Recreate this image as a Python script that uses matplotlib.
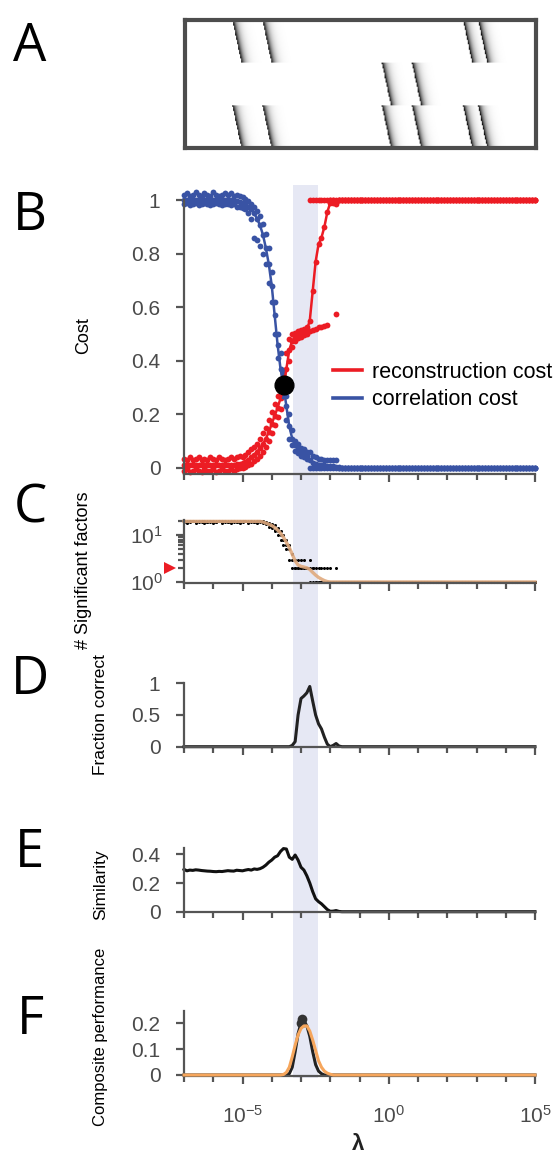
"""
Regularisation sweep summary: panels A-F stacked on a shared log lambda axis.
A: example data raster, B: cost curves, C: number of significant factors,
D: fraction correct, E: similarity, F: composite performance.
"""
import matplotlib.pyplot as plt
import numpy as np
from matplotlib.lines import Line2D
from matplotlib.patches import Rectangle
from matplotlib.ticker import FixedLocator, NullFormatter
from matplotlib.transforms import blended_transform_factory

plt.rcParams["font.family"] = ["Liberation Sans", "DejaVu Sans"]
plt.rcParams["mathtext.fontset"] = "custom"
plt.rcParams["mathtext.rm"] = "Liberation Sans"
plt.rcParams["mathtext.it"] = "Liberation Sans:italic"
plt.rcParams["mathtext.bf"] = "Liberation Sans:bold"

W, H = 554, 1156

# ---------------------------------------------------------------- data --
# lambda sweep: 0.1 decade steps from 1e-7 to 1e5 (121 values)
log_lambda = np.linspace(-7, 5, 121)
lam = 10.0 ** log_lambda

# panel A: onset column of the first neuron of each sequence, per neuron group
seq_onsets_top = [47, 77, 277, 292]
seq_onsets_mid = [196, 226]
seq_onsets_bot = [47, 77, 196, 226, 277, 292]

# panel B: correlation cost (blue), replicate mean and spread
corr_mean = [1.0] * 15 + [
    1.0, 1.0, 0.998, 0.995, 0.993, 0.99, 0.985, 0.975, 0.965, 0.95,
    0.93, 0.905, 0.87, 0.82, 0.76, 0.68, 0.57, 0.46, 0.37, 0.31,
    0.23, 0.155, 0.11, 0.085, 0.07, 0.06, 0.052, 0.046, 0.03, 0.02,
    0.015, 0.012, 0.01, 0.01, 0.008, 0.007, 0.006, 0.005, 0.002, 0.001,
    0.0] + [0.0] * 65
corr_hi = [1.02, 1.025, 1.015, 1.02, 1.03, 1.02, 1.015, 1.025, 1.02, 1.015,
           1.03, 1.02, 1.015, 1.02, 1.025] + [
    1.02, 1.025, 1.015, 1.02, 1.015, 1.01, 1.005, 0.995, 0.985, 0.975,
    0.96, 0.94, 0.91, 0.875, 0.82, 0.73, 0.62, 0.5, 0.43, 0.36,
    0.27, 0.2, 0.14, 0.1, 0.09, 0.075, 0.07, 0.06, 0.06, 0.045,
    0.04, 0.035, 0.035, 0.03, 0.03, 0.03, 0.03, 0.03, 0.0, 0.0,
    0.0] + [0.0] * 65
corr_lo = [0.985, 0.99, 0.98, 0.985, 0.99, 0.98, 0.985, 0.99, 0.985, 0.98,
           0.985, 0.99, 0.985, 0.98, 0.985] + [
    0.985, 0.98, 0.985, 0.975, 0.975, 0.97, 0.965, 0.95, 0.93, 0.86,
    0.85, 0.83, 0.8, 0.76, 0.69, 0.62, 0.5, 0.41, 0.3, 0.27,
    0.18, 0.11, 0.085, 0.065, 0.055, 0.045, 0.04, 0.035] + [0.0] * 13 + [0.0] * 65

# panel B: reconstruction cost (red)
recon_mean = [0.012] * 15 + [
    0.012, 0.012, 0.013, 0.014, 0.016, 0.018, 0.022, 0.03, 0.04, 0.05,
    0.06, 0.075, 0.09, 0.11, 0.135, 0.165, 0.195, 0.225, 0.26, 0.30,
    0.37, 0.44, 0.475, 0.49, 0.5, 0.505, 0.51, 0.515, 0.55, 0.66,
    0.77, 0.835, 0.86, 0.9, 0.955, 0.99, 0.99, 0.985, 1.0, 1.0,
    1.0] + [1.0] * 65
recon_hi = [0.035, 0.03, 0.04, 0.03, 0.035, 0.04, 0.03, 0.035, 0.03, 0.04,
            0.035, 0.03, 0.04, 0.035, 0.03] + [
    0.035, 0.04, 0.035, 0.04, 0.045, 0.04, 0.05, 0.06, 0.07, 0.08,
    0.09, 0.11, 0.13, 0.15, 0.18, 0.21, 0.24, 0.27, 0.3, 0.35,
    0.43, 0.48, 0.5, 0.505, 0.51, 0.515, 0.52, 0.525] + [1.0] * 13 + [1.0] * 65
recon_lo = [-0.01, -0.005, -0.015, -0.01, -0.005, -0.01, -0.015, -0.005, -0.01, -0.01,
            -0.005, -0.015, -0.01, -0.005, -0.01] + [
    -0.01, -0.005, -0.01, -0.005, 0.0, 0.0, 0.005, 0.01, 0.015, 0.025,
    0.035, 0.045, 0.06, 0.08, 0.1, 0.13, 0.16, 0.19, 0.22, 0.27,
    0.32, 0.4, 0.45, 0.475, 0.485, 0.49, 0.495, 0.5, 0.51, 0.515,
    0.52, 0.525, 0.525, 0.53, 0.535, 1.0, 1.0, 0.575, 1.0, 1.0,
    1.0] + [1.0] * 65

cross_lambda = 10 ** -3.58
cross_cost = 0.31

# panel C: significant factors per replicate and smoothed mean
n_factors_true = 2
sig_a = [20] * 27 + [20, 19, 18, 17, 16, 14, 12, 10, 8, 6, 4, 3, 3, 3, 3, 2, 3, 2,
                     2, 2, 2, 2, 2, 2, 1, 2, 1] + [1] * 67
sig_b = [20, 19, 20, 20, 19, 20, 20, 20, 19, 20, 20, 19, 20, 20, 20, 19, 20, 20,
         19, 20, 20, 20, 19, 20, 19, 20, 20] + [
    19, 18, 17, 15, 13, 12, 10, 8, 6, 5, 3, 2, 2, 2, 2, 2, 2, 2,
    1, 1, 1, 1, 1, 1, 1, 1, 1] + [1] * 67
sig_c = [19, 18, 19, 20, 18, 19, 19, 18, 19, 19, 18, 19, 20, 18, 19, 19, 18, 19,
         19, 18, 19, 20, 18, 19, 19, 18, 19] + [
    18, 17, 15, 14, 12, 10, 8, 6, 5, 3, 2, 2, 2, 2, 2, 2, 1, 1,
    1, 1, 1, 1, 1, 1, 1, 1, 1] + [1] * 67
sig_mean = [19.6] * 27 + [
    19.0, 18.0, 17.0, 16.0, 14.5, 12.8, 11.0, 9.0, 7.0, 5.4, 3.9, 2.8, 2.3, 2.15,
    2.08, 2.0, 1.85, 1.6, 1.4, 1.25, 1.15, 1.07, 1.02, 1.0, 1.0, 1.0, 1.0] + [1.0] * 67

# panel D: fraction correct
frac_correct = [0.0] * 37 + [
    0.02, 0.08, 0.5, 0.76, 0.8, 0.85, 0.95, 0.72, 0.5, 0.36, 0.28, 0.15,
    0.04, 0.0, 0.02, 0.05, 0.01] + [0.0] * 67

# panel E: similarity
similarity = [
    0.295, 0.285, 0.29, 0.288, 0.292, 0.29, 0.287, 0.285, 0.283, 0.282,
    0.28, 0.279, 0.281, 0.28, 0.283, 0.286, 0.284, 0.283, 0.289, 0.287,
    0.285, 0.29, 0.294, 0.29, 0.298, 0.295, 0.30, 0.31, 0.325, 0.345,
    0.36, 0.38, 0.39, 0.42, 0.44, 0.437, 0.38, 0.365, 0.395, 0.36,
    0.31, 0.29, 0.25, 0.2, 0.14, 0.09, 0.07, 0.055, 0.035, 0.015,
    0.003, 0.004, 0.008, 0.002] + [0.0] * 67

# panel F: composite performance and its smoothed version
composite = [0.0] * 34 + [
    0.0, 0.0, 0.005, 0.03, 0.09, 0.16, 0.2, 0.21, 0.19, 0.15, 0.09, 0.04,
    0.015, 0.005, 0.0, 0.0, 0.0] + [0.0] * 70
composite_smooth = [0.0] * 34 + [
    0.002, 0.01, 0.03, 0.07, 0.115, 0.155, 0.18, 0.19, 0.19, 0.17, 0.135, 0.095,
    0.055, 0.03, 0.015, 0.007, 0.003] + [0.0] * 70
best_lambda = [10 ** -3.0, 10 ** -2.95]
best_score = [0.2, 0.215]

shade_lo, shade_hi = 10 ** -3.26, 10 ** -2.42

# -------------------------------------------------------------- styling --
RED = "#ec1c24"
BLUE = "#3953a4"
SPINE = "#555555"
TICKTXT = "#4a4a4a"
SHADE = "#e6e8f4"
ORANGE = "#f6a65c"
TAN = "#e0aa7e"
TICKSIZE = 15


def add_ax(top, bottom, left=184, right=535):
    return fig.add_axes([left / W, 1 - bottom / H, (right - left) / W, (bottom - top) / H])


def style(ax, ylim, yticks=None, yticklabels=None, ybounds=None, xlabels=False):
    ax.set_xscale("log")
    ax.set_xlim(1e-7, 1e5)
    ax.set_ylim(*ylim)
    ax.set_facecolor("none")
    for side in ("top", "right"):
        ax.spines[side].set_visible(False)
    for side in ("left", "bottom"):
        ax.spines[side].set_color(SPINE)
        ax.spines[side].set_linewidth(1.6)
    if ybounds is not None:
        ax.spines["left"].set_bounds(*ybounds)
    ax.xaxis.set_major_locator(FixedLocator([1e-5, 1e0, 1e5]))
    ax.xaxis.set_minor_locator(FixedLocator(10.0 ** np.arange(-7, 6)))
    ax.xaxis.set_minor_formatter(NullFormatter())
    if yticks is not None:
        ax.set_yticks(yticks)
        ax.set_yticklabels(yticklabels)
    ax.tick_params(which="major", direction="out", length=6, width=1.6, color=SPINE,
                   labelcolor=TICKTXT, labelsize=TICKSIZE, pad=7)
    ax.tick_params(axis="y", which="major", pad=11)
    ax.tick_params(which="minor", direction="out", length=4, width=1.6, color=SPINE)
    if not xlabels:
        ax.tick_params(axis="x", which="both", labelbottom=False)


fig = plt.figure(figsize=(W / 100, H / 100), dpi=100)

# ---- A: raster of example data
ax_a = add_ax(20, 148, 185, 536)
cols = np.arange(350)
raster = np.zeros((90, 350))
for band, onsets in enumerate([seq_onsets_top, seq_onsets_mid, seq_onsets_bot]):
    for t0 in onsets:
        for k in range(30):
            lag = cols - (t0 + 0.3 * k)
            raster[band * 30 + k] = np.maximum(
                raster[band * 30 + k], np.where(lag >= 0, np.exp(-lag / 3.5), 0))
ax_a.imshow(raster, cmap="gray_r", vmin=0, vmax=1, aspect="auto", interpolation="bilinear")
ax_a.set_xticks([])
ax_a.set_yticks([])
for sp in ax_a.spines.values():
    sp.set_color("#4d4d4d")
    sp.set_linewidth(3)

# ---- B: costs
ax_b = add_ax(185, 474)
for series in (recon_lo, recon_hi, recon_mean):
    ax_b.plot(lam, series, "o", color=RED, ms=4.2, mew=0, clip_on=False)
for series in (corr_lo, corr_hi, corr_mean):
    ax_b.plot(lam, series, "o", color=BLUE, ms=4.2, mew=0, clip_on=False)
ax_b.plot(lam, recon_mean, color=RED, lw=1.8)
ax_b.plot(lam, corr_mean, color=BLUE, lw=1.8)
ax_b.plot([cross_lambda], [cross_cost], "o", color="black", ms=13.5, zorder=5)
style(ax_b, (-0.0224, 1.056), [0, 0.2, 0.4, 0.6, 0.8, 1.0],
      ["0", "0.2", "0.4", "0.6", "0.8", "1"], ybounds=(-0.0224, 1.0))
ax_b.set_ylabel("Cost", fontsize=13)
ax_b.yaxis.set_label_coords(-0.262, 0.48)
ax_b.legend(handles=[Line2D([], [], color=RED, lw=2.6), Line2D([], [], color=BLUE, lw=2.6)],
            labels=["reconstruction cost", "correlation cost"],
            loc="upper left", bbox_to_anchor=(333 / W, 1 - 362 / H),
            bbox_transform=fig.transFigure, frameon=False, fontsize=15.5,
            handlelength=1.35, handletextpad=0.45, labelspacing=0.3,
            borderpad=0, borderaxespad=0)

# ---- C: significant factors
ax_c = add_ax(520, 583)
for series in (sig_a, sig_b, sig_c):
    ax_c.plot(lam, series, "o", color="black", ms=2.2, mew=0, clip_on=False)
ax_c.plot(lam, sig_mean, color=TAN, lw=2.4, alpha=0.9, clip_on=False)
style(ax_c, (1, 2))
ax_c.set_yscale("log")
ax_c.set_ylim(0.95, 20.95)
ax_c.yaxis.set_major_locator(FixedLocator([1, 10]))
ax_c.yaxis.set_minor_locator(FixedLocator([2, 3, 4, 5, 6, 7, 8, 9, 20]))
ax_c.yaxis.set_minor_formatter(NullFormatter())
ax_c.tick_params(axis="y", which="minor", length=4)
ax_c.tick_params(axis="y", which="major", pad=9)
ax_c.plot([-0.04], [n_factors_true], ">", color=RED, ms=8, mew=0, clip_on=False,
          transform=blended_transform_factory(ax_c.transAxes, ax_c.transData))
ax_c.set_ylabel("# Significant factors", fontsize=13)
ax_c.yaxis.set_label_coords(-0.262, 0.2)

# ---- D: fraction correct
ax_d = add_ax(683, 747)
ax_d.plot(lam, frac_correct, color="#222222", lw=2.2, clip_on=False)
style(ax_d, (-0.005, 1.005), [0, 0.5, 1.0], ["0", "0.5", "1"], ybounds=(-0.005, 1.0))
ax_d.set_ylabel("Fraction correct", fontsize=12.5)
ax_d.yaxis.set_label_coords(-0.217, 0.5)

# ---- E: similarity
ax_e = add_ax(848, 912)
ax_e.plot(lam, similarity, color="#111111", lw=2.2, clip_on=False)
style(ax_e, (-0.002, 0.444), [0, 0.2, 0.4], ["0", "0.2", "0.4"])
ax_e.set_ylabel("Similarity", fontsize=12.5)
ax_e.yaxis.set_label_coords(-0.217, 0.42)

# ---- F: composite performance
ax_f = add_ax(1011, 1076)
ax_f.plot(lam, composite, color="#222222", lw=2.2, clip_on=False)
ax_f.plot(best_lambda, best_score, "o", color="#333333", ms=7, mew=0, zorder=4)
ax_f.plot(lam, composite_smooth, color=ORANGE, lw=2.2, clip_on=False, zorder=5)
style(ax_f, (-0.0039, 0.2476), [0, 0.1, 0.2], ["0", "0.1", "0.2"], xlabels=True)
ax_f.tick_params(axis="x", which="major", pad=15)
ax_f.set_ylabel("Composite performance", fontsize=12)
ax_f.yaxis.set_label_coords(-0.217, 0.6)
fig.text(358 / W, 1 - 1155 / H, "λ", fontsize=16, fontweight="bold",
         ha="center", va="bottom", color="#222222")

# ---- shaded lambda range spanning panels B-F
band = blended_transform_factory(ax_b.transData, fig.transFigure)
fig.patches.append(Rectangle((shade_lo, 1 - 1078 / H), shade_hi - shade_lo, (1078 - 185) / H,
                             transform=band, facecolor=SHADE, edgecolor="none", zorder=-10))

# ---- panel letters
for letter, y in zip("ABCDEF", [47, 216, 509, 680, 853, 1020]):
    fig.text(30 / W, 1 - y / H, letter, fontsize=38, family=["Open Sans", "DejaVu Sans"],
             ha="center", va="center", color="black")

fig.savefig("out.png", dpi=100)
